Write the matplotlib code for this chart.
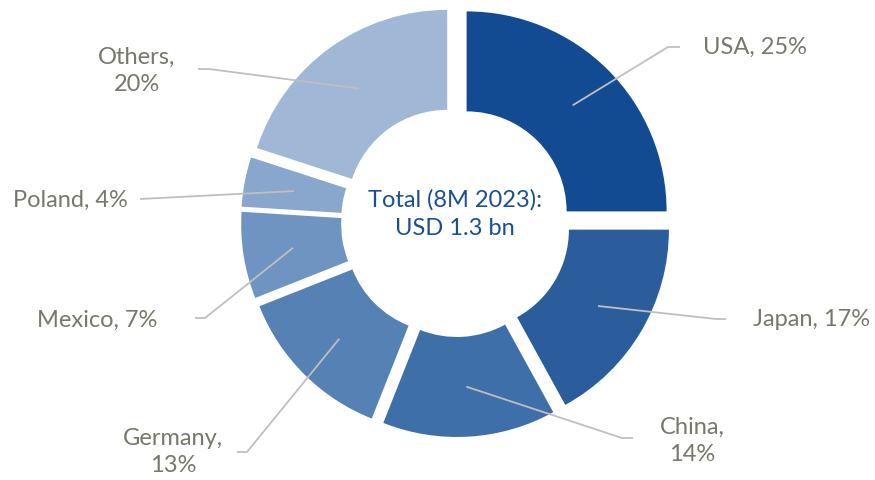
import matplotlib
matplotlib.use("Agg")
import matplotlib.pyplot as plt
import numpy as np

# data
countries = ["USA", "Japan", "China", "Germany", "Mexico", "Poland", "Others"]
shares = [25, 17, 14, 13, 7, 4, 20]
label_texts = ["USA, 25%", "Japan, 17%", "China,\n14%", "Germany,\n13%",
               "Mexico, 7%", "Poland, 4%", "Others,\n20%"]
center_text = "Total (8M 2023):\nUSD 1.3 bn"

colors = ["#124B91", "#2B5D9C", "#3F6FA8", "#5581B5", "#7094C1", "#89A6CD", "#A0B8D6"]
text_grey = "#77776B"
line_grey = "#BFBFBF"

plt.rcParams["font.family"] = ["Lato", "DejaVu Sans"]

W, H = 875, 480
CX, CY, R = 456, 222, 200.0


def px(x, y):
    # pixel position in the image -> data coordinates
    return ((x - CX) / R, (CY - y) / R)


fig = plt.figure(figsize=(8.75, 4.8), dpi=100)
ax = fig.add_axes([0, 0, 1, 1])

explode = 0.075
wedges, _ = ax.pie(shares, colors=colors, startangle=90, counterclock=False,
                   radius=1.0, explode=[explode] * len(shares),
                   wedgeprops=dict(width=0.5, linewidth=0))

# pie() resets the limits, so set them afterwards
ax.set_xlim(-CX / R, (W - CX) / R)
ax.set_ylim(-(H - CY) / R, CY / R)
ax.set_aspect("equal")
ax.axis("off")

# label layout: text position (px), leader path points after the anchor (px)
layout = [
    ((755, 47), [(668, 47), (680, 47)]),
    ((812, 320), [(716, 319), (726, 319)]),
    ((692, 441), [(622, 438), (633, 438)]),
    ((173, 452), [(247, 452), (237, 452)]),
    ((97, 320), [(205, 318), (195, 318)]),
    ((70, 200), [(140, 199)]),
    ((137, 71), [(209, 69), (198, 69)]),
]

for w, txt, (tpos, path) in zip(wedges, label_texts, layout):
    mid = np.deg2rad((w.theta1 + w.theta2) / 2)
    cx, cy = w.center
    ax_, ay_ = cx + 0.75 * np.cos(mid), cy + 0.75 * np.sin(mid)
    pts = [(ax_, ay_)] + [px(*p) for p in path]
    xs, ys = zip(*pts)
    ax.plot(xs, ys, color=line_grey, lw=1.3, solid_capstyle="butt")
    tx, ty = px(*tpos)
    ax.text(tx, ty, txt, ha="center", va="center", fontsize=17,
            color=text_grey, linespacing=1.4)

cx_t, cy_t = px(455, 214)
ax.text(cx_t, cy_t, center_text, ha="center", va="center", fontsize=17,
        color="#1A4F91", linespacing=1.4)

fig.savefig("out.png", dpi=100)
